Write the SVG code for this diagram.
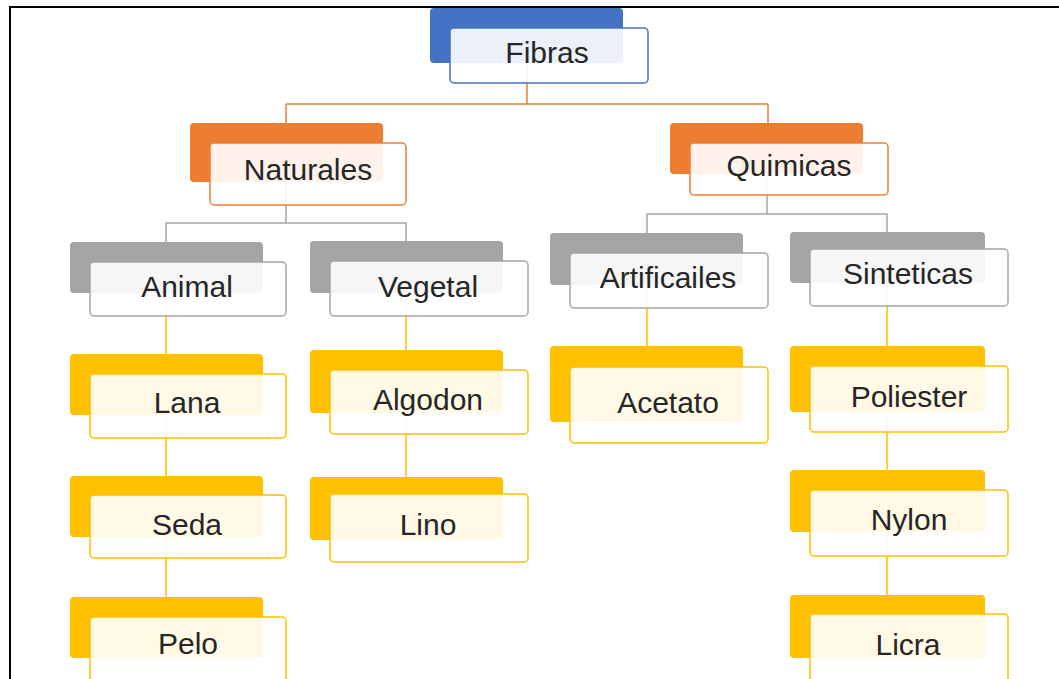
<svg xmlns="http://www.w3.org/2000/svg" width="1059" height="679" viewBox="0 0 1059 679">
<style>
.t{font-family:"Liberation Sans",Arial,sans-serif;font-size:30px;fill:#262626;text-anchor:middle}
.bk{stroke:none}
.fr{fill:#fff;fill-opacity:0.9;stroke-width:1.5}
.blue .bk{fill:#4472C4}.blue .fr{stroke:#4472C4}
.orange .bk{fill:#ED7D31}.orange .fr{stroke:#ED7D31}
.gray .bk{fill:#A5A5A5}.gray .fr{stroke:#A5A5A5}
.yellow .bk{fill:#FFC000}.yellow .fr{stroke:#FFC000}
.c{fill:none;stroke-width:1.5}
</style>
<rect width="1059" height="679" fill="#fff"/>
<g id="frame" stroke="#000" stroke-width="2">
<line x1="9" y1="7" x2="1059" y2="7"/>
<line x1="10" y1="6" x2="10" y2="679"/>
</g>
<g id="connectors">
<path class="c" stroke="#ED7D31" d="M527 63V104M286 104H768M286 104V123M768 104V123"/>
<path class="c" stroke="#A5A5A5" d="M286 182V223H166V242M286 223H406V241M767 174V214H647V233M767 214H887V232"/>
<path class="c" stroke="#FFC000" d="M166 293V597M406 293V477M647 285V346M887 283V595"/>
</g>
<g id="fibras" class="blue"><rect class="bk" x="430" y="8" width="193" height="55" rx="4"/><rect class="fr" x="450" y="28" width="198" height="55" rx="4"/><text class="t" x="547" y="63">Fibras</text></g>
<g id="naturales" class="orange"><rect class="bk" x="190" y="123" width="193" height="59" rx="4"/><rect class="fr" x="210" y="143" width="196" height="62" rx="4"/><text class="t" x="308" y="180">Naturales</text></g>
<g id="quimicas" class="orange"><rect class="bk" x="670" y="123" width="193" height="51" rx="4"/><rect class="fr" x="690" y="143" width="198" height="52" rx="4"/><text class="t" x="789" y="176">Quimicas</text></g>
<g id="animal" class="gray"><rect class="bk" x="70" y="242" width="193" height="51" rx="4"/><rect class="fr" x="90" y="262" width="196" height="54" rx="4"/><text class="t" x="187" y="297">Animal</text></g>
<g id="vegetal" class="gray"><rect class="bk" x="310" y="241" width="193" height="52" rx="4"/><rect class="fr" x="330" y="261" width="198" height="55" rx="4"/><text class="t" x="428" y="297">Vegetal</text></g>
<g id="artificailes" class="gray"><rect class="bk" x="550" y="233" width="193" height="52" rx="4"/><rect class="fr" x="570" y="253" width="198" height="55" rx="4"/><text class="t" x="668" y="288">Artificailes</text></g>
<g id="sinteticas" class="gray"><rect class="bk" x="790" y="232" width="195" height="51" rx="4"/><rect class="fr" x="810" y="249" width="198" height="57" rx="4"/><text class="t" x="908" y="284">Sinteticas</text></g>
<g id="lana" class="yellow"><rect class="bk" x="70" y="354" width="193" height="61" rx="4"/><rect class="fr" x="90" y="374" width="196" height="64" rx="4"/><text class="t" x="187" y="413">Lana</text></g>
<g id="algodon" class="yellow"><rect class="bk" x="310" y="350" width="193" height="63" rx="4"/><rect class="fr" x="330" y="370" width="198" height="64" rx="4"/><text class="t" x="428" y="410">Algodon</text></g>
<g id="acetato" class="yellow"><rect class="bk" x="550" y="346" width="193" height="76" rx="4"/><rect class="fr" x="570" y="367" width="198" height="76" rx="4"/><text class="t" x="668" y="413">Acetato</text></g>
<g id="poliester" class="yellow"><rect class="bk" x="790" y="346" width="195" height="66" rx="4"/><rect class="fr" x="810" y="366" width="198" height="66" rx="4"/><text class="t" x="909" y="407">Poliester</text></g>
<g id="seda" class="yellow"><rect class="bk" x="70" y="476" width="193" height="61" rx="4"/><rect class="fr" x="90" y="495" width="196" height="63" rx="4"/><text class="t" x="187" y="535">Seda</text></g>
<g id="lino" class="yellow"><rect class="bk" x="310" y="477" width="193" height="63" rx="4"/><rect class="fr" x="330" y="494" width="198" height="68" rx="4"/><text class="t" x="428" y="535">Lino</text></g>
<g id="nylon" class="yellow"><rect class="bk" x="790" y="470" width="195" height="62" rx="4"/><rect class="fr" x="810" y="490" width="198" height="66" rx="4"/><text class="t" x="909" y="530">Nylon</text></g>
<g id="pelo" class="yellow"><rect class="bk" x="70" y="597" width="193" height="61" rx="4"/><rect class="fr" x="90" y="617" width="196" height="70" rx="4"/><text class="t" x="188" y="654">Pelo</text></g>
<g id="licra" class="yellow"><rect class="bk" x="790" y="595" width="195" height="63" rx="4"/><rect class="fr" x="810" y="614" width="198" height="70" rx="4"/><text class="t" x="908" y="655">Licra</text></g>
</svg>
